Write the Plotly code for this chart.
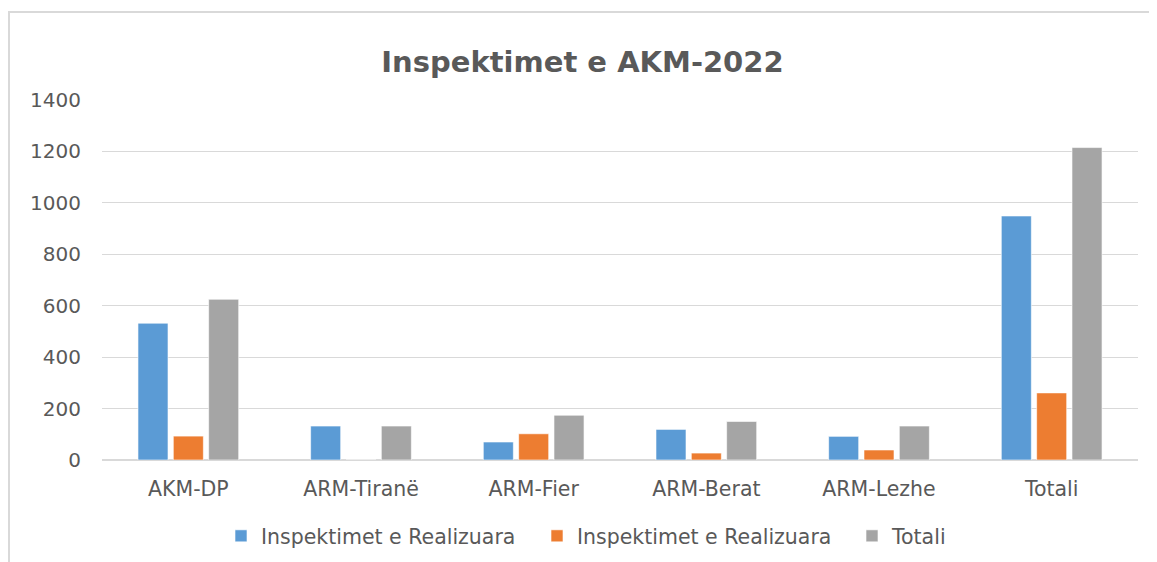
import plotly.graph_objects as go

categories = ["AKM-DP", "ARM-Tiranë", "ARM-Fier", "ARM-Berat", "ARM-Lezhe", "Totali"]
series_names = ["Inspektimet e Realizuara", "Inspektimet e Realizuara", "Totali"]
blue_values = [532, 132, 70, 119, 92, 949]
orange_values = [93, 0, 102, 27, 39, 261]
gray_values = [625, 132, 174, 150, 132, 1215]
colors = ["#5B9BD5", "#ED7D31", "#A5A5A5"]
y_ticks = [0, 200, 400, 600, 800, 1000, 1200, 1400]

OFF = 8  # page body margin
W, H = 1157 - OFF, 562 - OFF
# target plot area in screen pixels: x 102..1138, y 100..460
ml = 102 - OFF
mt = 100 - OFF
mr = W - (1138 - OFF)
mb = H - (460 - OFF)
pw, ph = W - ml - mr, H - mt - mb

def px_x(sx):
    return (sx - OFF - ml) / pw

def px_y(sy):
    return (H - mb - (sy - OFF)) / ph

legend_ids = ["legend", "legend2", "legend3"]
legend_left = [221, 537, 852]

fig = go.Figure()
for name, vals, col, lid in zip(series_names, [blue_values, orange_values, gray_values], colors, legend_ids):
    fig.add_trace(go.Bar(x=categories, y=vals, name=name, legend=lid,
                         marker=dict(color=col, line=dict(color="rgba(255,255,255,0.6)", width=1))))

legend_font = dict(family="DejaVu Sans", size=20.5, color="#595959")
legends = {}
for lid, lx in zip(legend_ids, legend_left):
    legends[lid] = dict(orientation="h", x=px_x(lx), xanchor="left", y=px_y(536), yanchor="middle",
                        font=legend_font, bgcolor="rgba(0,0,0,0)")

fig.update_layout(
    width=W, height=H,
    margin=dict(l=ml, r=mr, t=mt, b=mb, autoexpand=False),
    paper_bgcolor="white", plot_bgcolor="white",
    barmode="group", bargap=0.386, bargroupgap=0.15,
    title=dict(text="<b>Inspektimet e AKM-2022</b>", x=0.5, xanchor="center",
               y=1 - (62 - OFF) / H, yanchor="middle",
               font=dict(family="DejaVu Sans", size=29, color="#595959")),
    font=dict(family="DejaVu Sans", size=19, color="#595959"),
    showlegend=True,
    xaxis=dict(showgrid=False, showline=False, ticks="", tickfont=dict(size=20.5), ticklabelstandoff=14),
    yaxis=dict(range=[0, 1400], tickvals=y_ticks, showgrid=True, gridcolor="#D9D9D9", gridwidth=1,
               zeroline=True, zerolinecolor="#D9D9D9", zerolinewidth=1.5, showline=False, ticks="",
               tickfont=dict(size=20), ticklabelstandoff=20),
    shapes=[dict(type="rect", xref="paper", yref="paper", x0=px_x(9), x1=px_x(1175),
                 y0=px_y(580), y1=px_y(12),
                 line=dict(color="#D9D9D9", width=2), fillcolor="rgba(0,0,0,0)", layer="below")],
    **legends,
)

fig.write_html("out.html")
